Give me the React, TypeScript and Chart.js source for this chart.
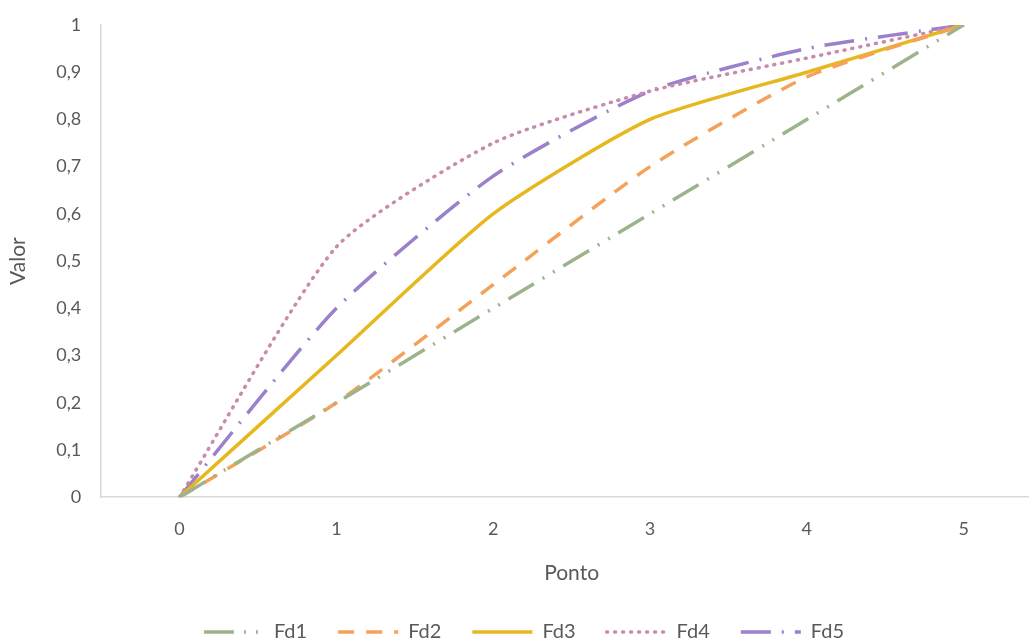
import React, { useEffect, useRef } from "react";
import { Chart, registerables } from "chart.js";

Chart.register(...registerables);

const points = ["0", "1", "2", "3", "4", "5"];
const fd1 = [0, 0.2, 0.4, 0.6, 0.8, 1];
const fd2 = [0, 0.2, 0.45, 0.7, 0.89, 1];
const fd3 = [0, 0.3, 0.6, 0.8, 0.9, 1];
const fd4 = [0, 0.53, 0.75, 0.86, 0.93, 1];
const fd5 = [0, 0.4, 0.68, 0.86, 0.95, 1];
const seriesNames = ["Fd1", "Fd2", "Fd3", "Fd4", "Fd5"];
const yTicks = [0, 0.1, 0.2, 0.3, 0.4, 0.5, 0.6, 0.7, 0.8, 0.9, 1];

const FONT = "Lato, 'Open Sans', sans-serif";
const TEXT = "#595959";

export default function App() {
  const ref = useRef<HTMLCanvasElement | null>(null);
  useEffect(() => {
    if (!ref.current) return;
    const mk = (label: string, data: number[], color: string, dash: number[], cap: CanvasLineCap) => ({
      label,
      data,
      borderColor: color,
      backgroundColor: color,
      borderWidth: 3.5,
      borderDash: dash,
      borderCapStyle: cap,
      pointRadius: 0,
      pointHoverRadius: 0,
      tension: 0.2,
      fill: false,
    });
    const chart = new Chart(ref.current, {
      type: "line",
      data: {
        labels: points,
        datasets: [
          mk(seriesNames[0], fd1, "#9DB38C", [30, 10, 2, 10, 2, 10], "butt"),
          mk(seriesNames[1], fd2, "#F4A259", [16, 12], "butt"),
          mk(seriesNames[2], fd3, "#E6B71E", [], "butt"),
          mk(seriesNames[3], fd4, "#C98AAE", [1, 7], "round"),
          mk(seriesNames[4], fd5, "#9B80CC", [30, 11, 2, 11], "butt"),
        ],
      },
      options: {
        animation: false,
        responsive: false,
        maintainAspectRatio: false,
        layout: { padding: { top: 7, right: 8, left: 6, bottom: 0 } },
        plugins: {
          tooltip: { enabled: false },
          legend: {
            position: "bottom",
            labels: {
              usePointStyle: true,
              pointStyle: "line",
              pointStyleWidth: 60,
              boxWidth: 60,
              boxHeight: 8,
              padding: 31,
              color: TEXT,
              font: { family: FONT, size: 20 },
              generateLabels: (c: any) => {
                const items = (Chart as any).defaults.plugins.legend.labels.generateLabels(c);
                return items.map((it: any) => {
                  const ds: any = c.data.datasets[it.datasetIndex];
                  return {
                    ...it,
                    lineDash: ds.borderDash,
                    lineCap: ds.borderCapStyle,
                    lineWidth: 3.5,
                    strokeStyle: ds.borderColor,
                    fillStyle: ds.borderColor,
                    pointStyle: "line",
                  };
                });
              },
            },
          },
        },
        scales: {
          x: {
            type: "category",
            offset: true,
            grid: { display: false, drawTicks: false },
            border: { display: true, color: "#D9D9D9", width: 1.5 },
            ticks: { color: TEXT, font: { family: FONT, size: 18 }, padding: 21 },
            title: {
              display: true,
              text: "Ponto",
              color: TEXT,
              font: { family: FONT, size: 21 },
              padding: { top: 0, bottom: 5 },
            },
          },
          y: {
            type: "linear",
            min: 0,
            max: 1,
            afterBuildTicks: (axis: any) => {
              axis.ticks = yTicks.map((v) => ({ value: v }));
            },
            afterFit: (axis: any) => {
              axis.paddingTop = 25;
            },
            grid: { display: false, drawTicks: false },
            border: { display: true, color: "#D9D9D9", width: 1.5 },
            ticks: {
              color: TEXT,
              font: { family: FONT, size: 18 },
              padding: 20,
              callback: (v: any) => (v === 0 || v === 1 ? String(v) : Number(v).toFixed(1).replace(".", ",")),
            },
            title: {
              display: true,
              text: "Valor",
              color: TEXT,
              font: { family: FONT, size: 21 },
              padding: { top: 0, bottom: 5 },
            },
          },
        },
      },
    });
    return () => chart.destroy();
  }, []);
  return (
    <div style={{ position: "fixed", left: 0, top: 0, width: 1029, height: 642, overflow: "hidden", background: "#fff" }}>
      <canvas ref={ref} width={1050} height={652} style={{ width: 1050, height: 652, display: "block" }} />
    </div>
  );
}
